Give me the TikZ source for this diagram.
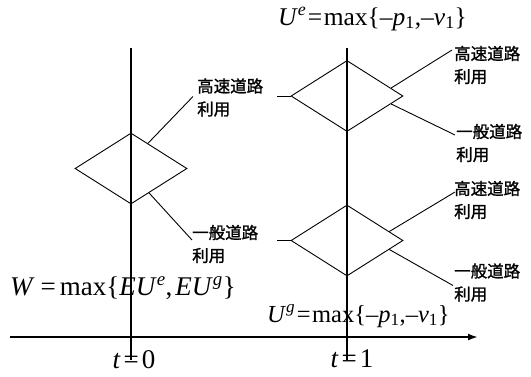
\documentclass[tikz,border=0pt]{standalone}
\usepackage{fontspec}
\setmainfont{Liberation Serif}
\newfontfamily\cjk[FakeBold=1.2]{Noto Sans CJK JP}
\usetikzlibrary{shapes.geometric,arrows.meta,calc}
\newcommand{\myit}[1]{\textit{#1}}
\newcommand{\myeq}[1]{\hspace{#1}=\hspace{#1}}
\begin{document}
\begin{tikzpicture}[x=1pt,y=-1pt,
  dia/.style={draw,diamond,minimum width=112pt,minimum height=71pt,inner sep=0pt,line width=0.9pt},
  lbl/.style={font=\cjk\fontsize{16.5pt}{23pt}\selectfont,align=left,anchor=west,inner sep=0pt},
  conn/.style={line width=0.9pt},
  frm/.style={inner sep=0pt,anchor=base west},
  big/.style={font=\fontsize{27pt}{30pt}\selectfont},
  mid/.style={font=\fontsize{25.5pt}{28pt}\selectfont},
  small/.style={font=\fontsize{24.5pt}{28pt}\selectfont},
  timeline/.style={line width=1.3pt},
  axis/.style={line width=2.6pt,-{Latex[length=10pt,width=7pt]}}]
\useasboundingbox (0,0) rectangle (531,376);

% time lines
\coordinate (top0) at (131,48);
\coordinate (bot0) at (131,360);
\coordinate (top1) at (347,48);
\coordinate (bot1) at (347,360);
\draw[timeline] (top0) -- (bot0);
\draw[timeline] (top1) -- (bot1);

% axis
\coordinate (ax0) at (10,337);
\coordinate (ax1) at (478,337);
\draw[axis] (ax0) -- (ax1);

% diamonds
\node[dia] (dL) at (131,168.5) {};
\node[dia] (dU) at (347,96) {};
\node[dia] (dD) at (347,240.5) {};

% labels
\node[lbl] (tA) at (197,97.5) {高速道路\\利用};
\node[lbl] (tB) at (192,244) {一般道路\\利用};
\node[lbl] (tC) at (454,65) {高速道路\\利用};
\node[lbl] (tD) at (456,143) {一般道路\\利用};
\node[lbl] (tE) at (454,200) {高速道路\\利用};
\node[lbl] (tF) at (454,282.5) {一般道路\\利用};

\coordinate (eA) at ($(tA.west)+(-4,-1)$);
\coordinate (eB) at ($(tB.west)+(0,-4)$);
\coordinate (eC) at ($(tC.west)+(-2,-15)$);
\coordinate (eD) at ($(tD.west)+(-1,-8)$);
\coordinate (eE) at ($(tE.west)+(1,-8)$);
\coordinate (eF) at ($(tF.west)+(-1,3)$);

\draw[conn] ($(dL.north)!0.3!(dL.east)$) -- (eA);
\draw[conn] ($(dL.south)!0.32!(dL.east)$) -- (eB);
\draw[conn] ($(dU.north)!0.78!(dU.east)$) -- (eC);
\draw[conn] ($(dU.south)!0.78!(dU.east)$) -- (eD);
\draw[conn] ($(dD.north)!0.75!(dD.east)$) -- (eE);
\draw[conn] ($(dD.south)!0.75!(dD.east)$) -- (eF);

% short lead-ins
\coordinate (sU) at (277,96);
\coordinate (sD) at (277,240.5);
\draw[conn] (sU) -- (dU.west);
\draw[conn] (sD) -- (dD.west);

% formulas
\node[frm,big] (W) at (10,295) {\myit{W}\hspace{6pt}=\hspace{4pt}max\{\myit{EU}\textsuperscript{\myit{e}},\hspace{3pt}\myit{EU}\textsuperscript{\myit{g}}\}};
\node[frm,mid] (Ue) at (278,25) {\myit{U}\textsuperscript{\myit{e}}\myeq{1.5pt}max\{–\myit{p}\textsubscript{1},–\myit{v}\textsubscript{1}\}};
\node[frm,small] (Ug) at (267,322) {\myit{U}\textsuperscript{\myit{g}}\myeq{1.5pt}max\{–\myit{p}\textsubscript{1},–\myit{v}\textsubscript{1}\}};
\node[inner sep=0pt,anchor=base,big] (t0) at (134,368) {\myit{t}\myeq{3pt}0};
\node[inner sep=0pt,anchor=base,big] (t1) at (352,367) {\myit{t}\myeq{3pt}1};
\end{tikzpicture}
\end{document}
